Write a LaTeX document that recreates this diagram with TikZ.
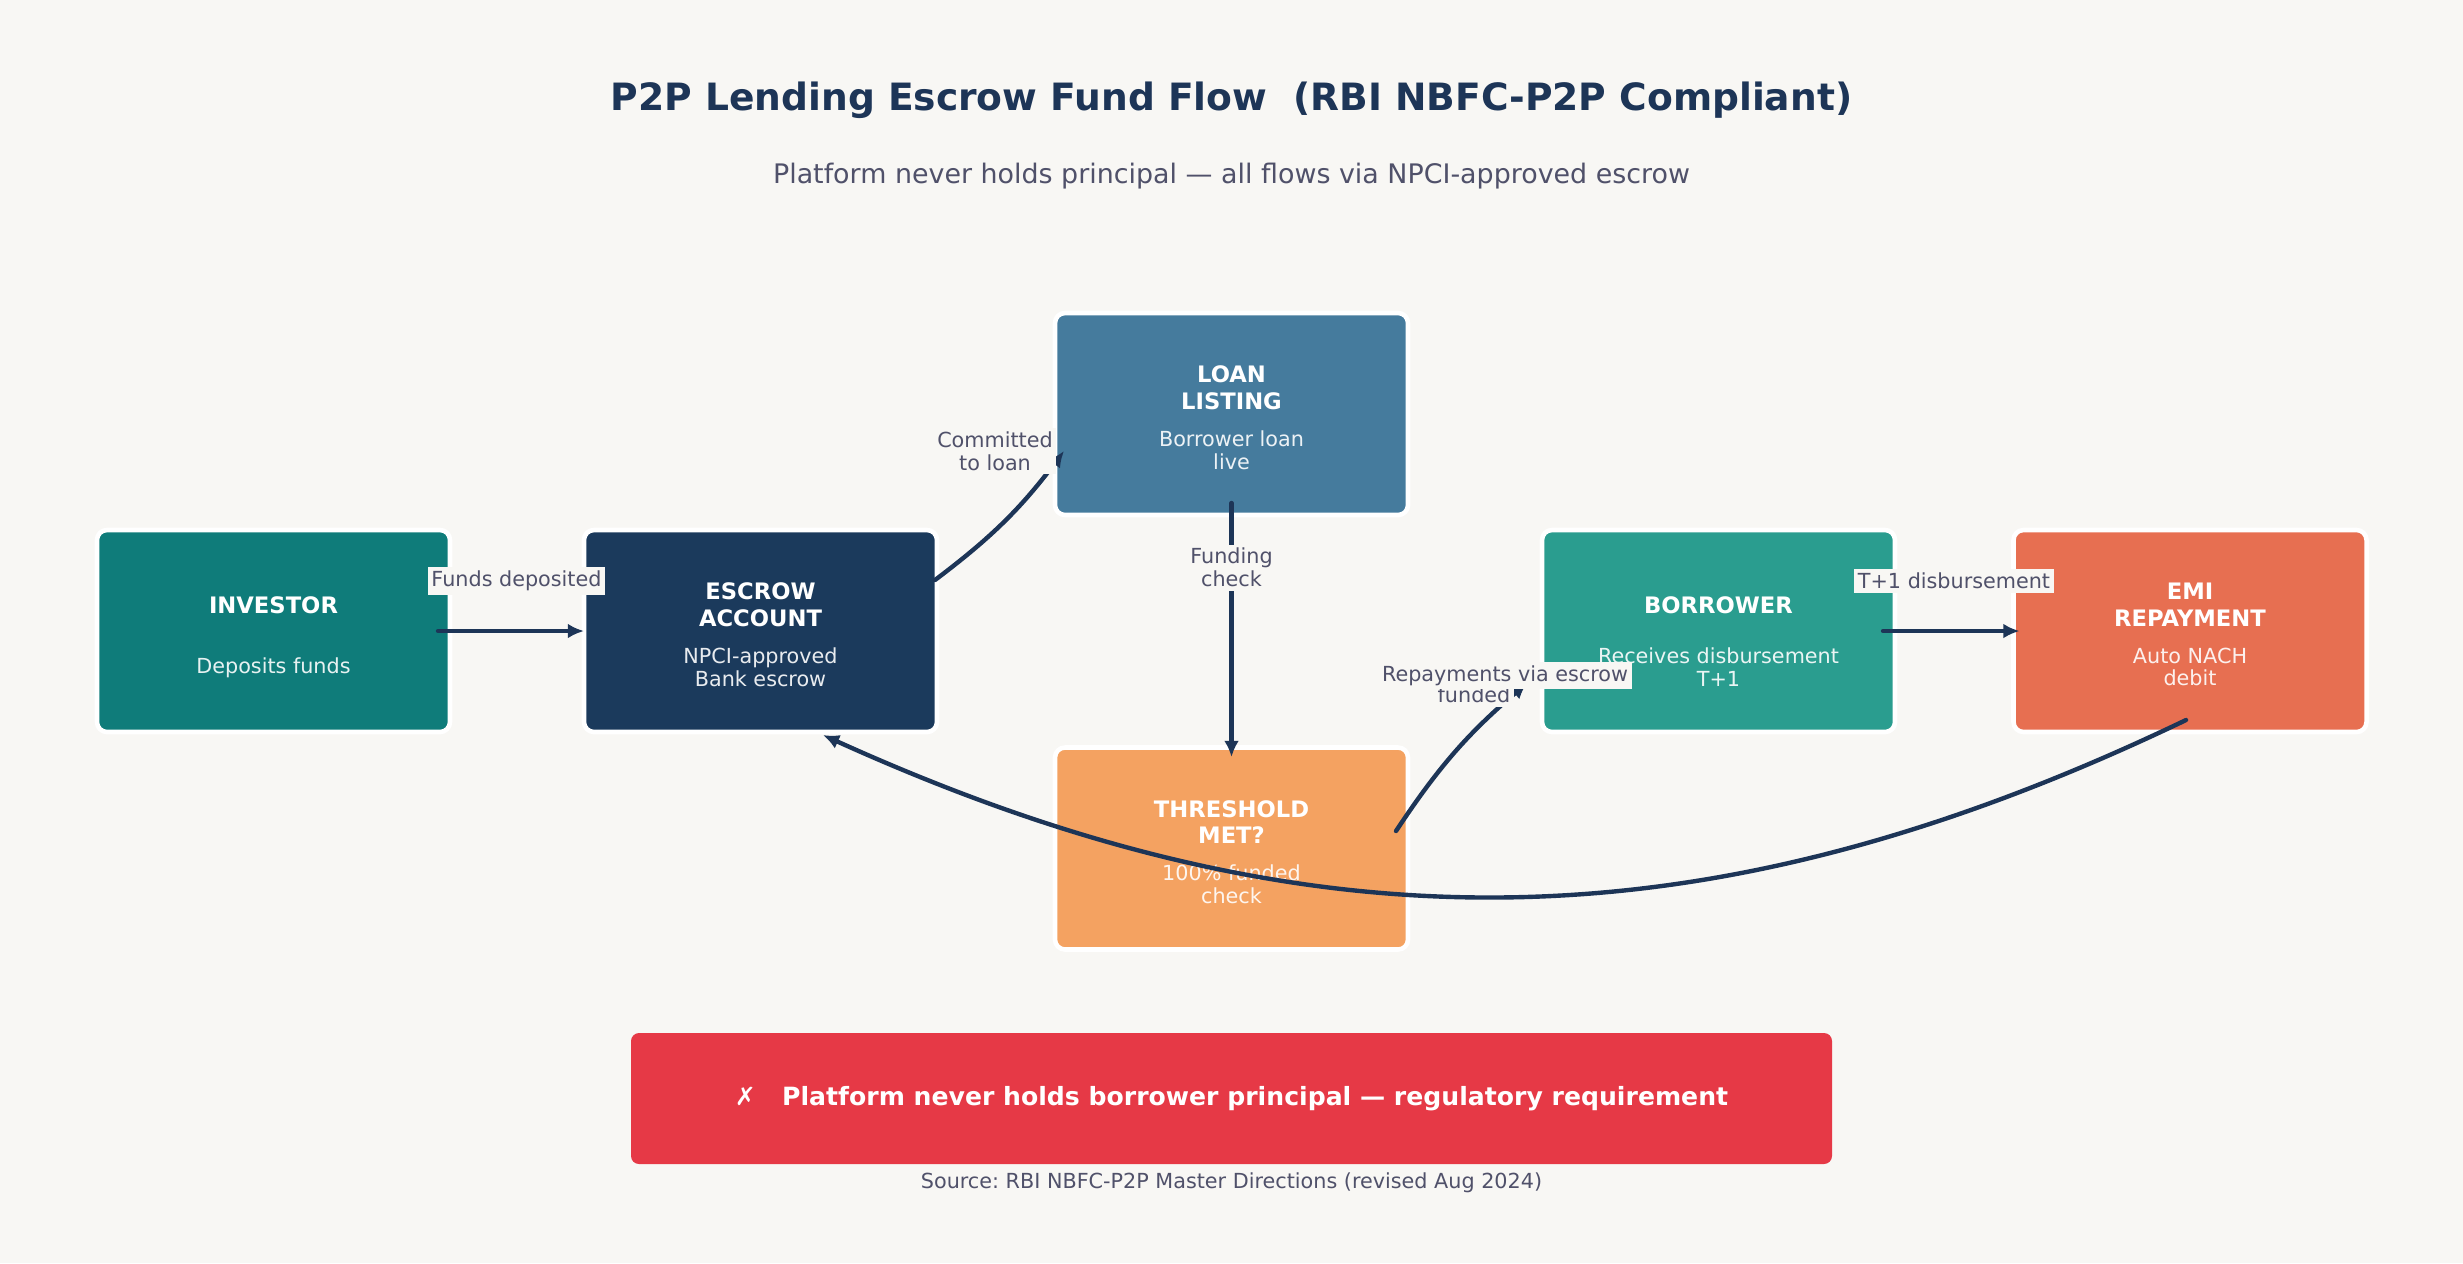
\documentclass[tikz,border=0pt]{standalone}
\usepackage{fontspec}
\setmainfont{DejaVu Sans}
\usepackage{tikz}
\usetikzlibrary{arrows.meta, positioning}
\frenchspacing

\definecolor{bgc}{HTML}{F8F7F4}
\definecolor{navy}{HTML}{1D3557}
\definecolor{lblc}{HTML}{50516A}
\definecolor{investorc}{HTML}{0F7C7A}
\definecolor{escrowc}{HTML}{1B3A5C}
\definecolor{loanc}{HTML}{457B9D}
\definecolor{thresholdc}{HTML}{F4A261}
\definecolor{borrowerc}{HTML}{2A9D8F}
\definecolor{emic}{HTML}{E76F51}
\definecolor{rulec}{HTML}{E63946}

\newcommand{\ptitlefont}{\fontsize{10.7}{12.8}\selectfont\bfseries}
\newcommand{\psubfont}{\fontsize{7.65}{9}\selectfont}
\newcommand{\boxhead}{\fontsize{6.45}{7.6}\selectfont\bfseries}
\newcommand{\boxnote}{\fontsize{5.9}{6.46}\selectfont}
\newcommand{\edgelbl}{\fontsize{5.9}{6.5}\selectfont}
\newcommand{\rulefont}{\fontsize{7.15}{8.6}\selectfont\bfseries}

\begin{document}
\begin{tikzpicture}[
  stage/.style={draw=white, line width=1.3pt, rounded corners=0.1cm,
    minimum width=3.53cm, minimum height=2.02cm, inner sep=0pt, outer sep=0pt},
  head/.style={text=white, font=\boxhead, align=center, inner sep=0pt},
  note/.style={text=white, text opacity=0.9, font=\boxnote, align=center, inner sep=0pt},
  flow/.style={draw=navy, line width=1.25pt, line cap=round,
    -{Latex[length=4.6pt, width=4.2pt]}},
  lbl/.style={fill=bgc, text=lblc, font=\edgelbl, align=center, inner sep=1pt}
]
\useasboundingbox (0,0) rectangle (24.63,-12.63);
\fill[bgc] (0,0) rectangle (24.63,-12.63);

% Title
\node[anchor=base, font=\ptitlefont, text=navy] (title) at (12.315,-1.10)
{P2P Lending Escrow Fund Flow \ (RBI NBFC-P2P Compliant)};
\node[anchor=base, font=\psubfont, text=lblc] (subtitle) at (12.315,-1.83)
{Platform never holds principal — all flows via NPCI-approved escrow};

% Stages
\node[stage, fill=investorc] (investor) at (2.735,-6.31) {};
\node[head] (investor-h) at ([yshift=0.26cm]investor.center) {INVESTOR};
\node[note] (investor-n) at ([yshift=-0.37cm]investor.center) {Deposits funds};

\node[stage, fill=escrowc] (escrow) at (7.605,-6.31) {};
\node[head] (escrow-h) at ([yshift=0.265cm]escrow.center) {ESCROW\\ACCOUNT};
\node[note] (escrow-n) at ([yshift=-0.36cm]escrow.center) {NPCI-approved\\Bank escrow};

\node[stage, fill=loanc] (loan) at (12.315,-4.14) {};
\node[head] (loan-h) at ([yshift=0.265cm]loan.center) {LOAN\\LISTING};
\node[note] (loan-n) at ([yshift=-0.36cm]loan.center) {Borrower loan\\live};

\node[stage, fill=thresholdc] (threshold) at (12.315,-8.485) {};
\node[head] (threshold-h) at ([yshift=0.265cm]threshold.center) {THRESHOLD\\MET?};
\node[note] (threshold-n) at ([yshift=-0.36cm]threshold.center) {100\% funded\\check};

\node[stage, fill=borrowerc] (borrower) at (17.185,-6.31) {};
\node[head] (borrower-h) at ([yshift=0.26cm]borrower.center) {BORROWER};
\node[note] (borrower-n) at ([yshift=-0.36cm]borrower.center) {Receives disbursement\\T+1};

\node[stage, fill=emic] (emi) at (21.9,-6.31) {};
\node[head] (emi-h) at ([yshift=0.265cm]emi.center) {EMI\\REPAYMENT};
\node[note] (emi-n) at ([yshift=-0.36cm]emi.center) {Auto NACH\\debit};

% Fund flows
\draw[flow] ([xshift=-0.12cm]investor.east) -- (escrow.west)
  node[lbl] at (5.165,-5.81) {Funds deposited};
\draw[flow] ([xshift=-0.02cm,yshift=0.51cm]escrow.east) to[bend right=8]
  ([xshift=0.09cm,yshift=-0.37cm]loan.west)
  node[lbl] at (9.95,-4.51) {Committed\\to loan};
\draw[flow] ([yshift=0.12cm]loan.south) -- ([yshift=-0.095cm]threshold.north)
  node[lbl, pos=0.254] {Funding\\check};
\draw[flow] ([xshift=-0.12cm,yshift=0.175cm]threshold.east) to[bend left=8]
  ([xshift=-0.15cm,yshift=-0.52cm]borrower.west)
  node[lbl] at (14.74,-6.95) {funded};
\draw[flow] ([xshift=-0.12cm]borrower.east) -- ([xshift=0.06cm]emi.west)
  node[lbl] at (19.54,-5.81) {T+1 disbursement};
\draw[flow] ([xshift=-0.04cm,yshift=0.12cm]emi.south) to[bend left=25]
  ([xshift=0.625cm,yshift=-0.03cm]escrow.south)
  node[lbl] at (15.05,-6.755) {Repayments via escrow};

% Rule banner
\node[fill=rulec, rounded corners=0.08cm, minimum width=12.01cm, minimum height=1.31cm,
  text=white, font=\rulefont] (rule) at (12.315,-10.985)
{{\mdseries ✗}\ \ \ Platform never holds borrower principal — regulatory requirement};
\node[anchor=base, font=\edgelbl, text=lblc] (source) at (12.315,-11.88)
{Source: RBI NBFC-P2P Master Directions (revised Aug 2024)};
\end{tikzpicture}
\end{document}
